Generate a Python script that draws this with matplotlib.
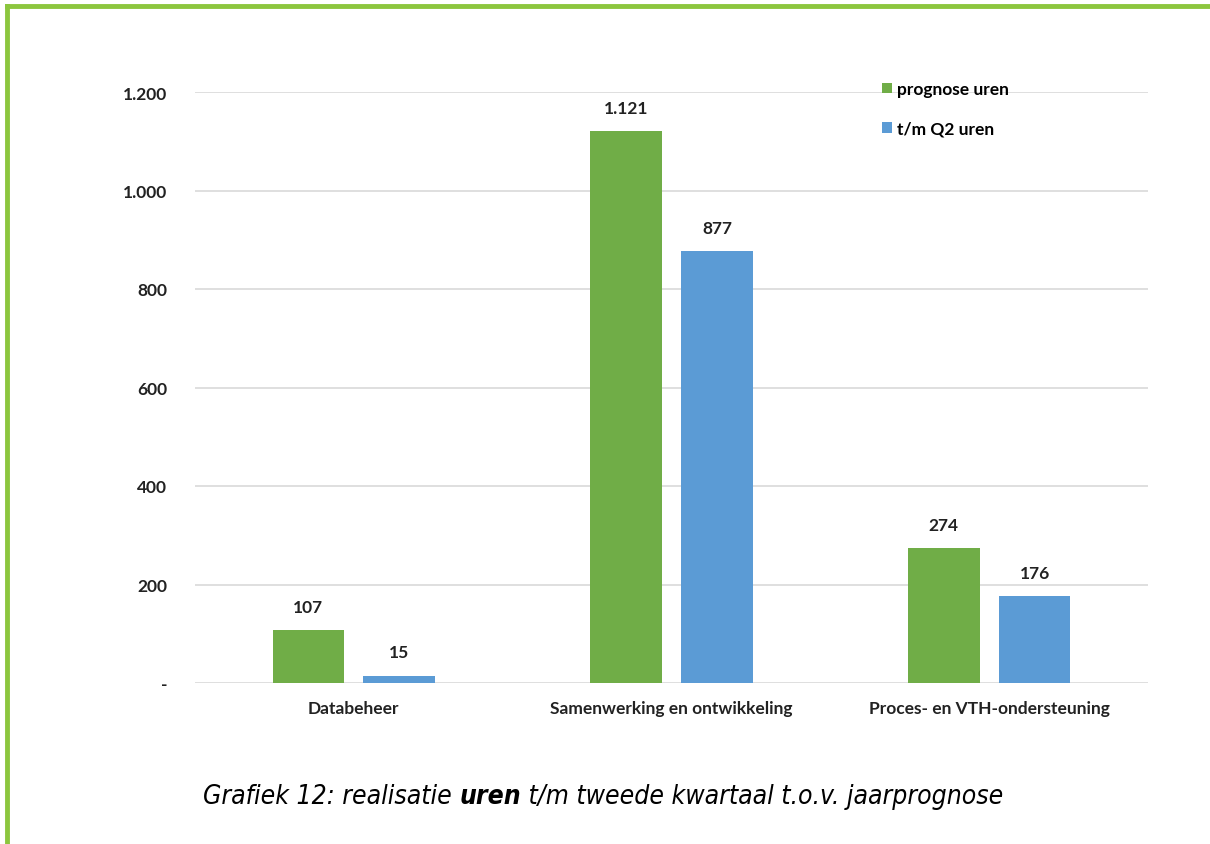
import matplotlib.pyplot as plt
import numpy as np
from matplotlib.lines import Line2D
from matplotlib.ticker import FuncFormatter

categories = ["Databeheer", "Samenwerking en ontwikkeling", "Proces- en VTH-ondersteuning"]
prognose = [107, 1121, 274]
tm_q2 = [15, 877, 176]
series_names = ["prognose uren", "t/m Q2 uren"]
colors = ["#70AD47", "#5B9BD5"]
caption_parts = [("Grafiek 12: realisatie ", "normal"), ("uren", "bold"),
                 (" t/m tweede kwartaal t.o.v. jaarprognose", "normal")]


def nl_fmt(v, pos=None):
    if v == 0:
        return "-"
    return f"{int(v):,}".replace(",", ".")


plt.rcParams['font.family'] = ['Lato', 'DejaVu Sans']

fig = plt.figure(figsize=(12.1, 8.45), dpi=100)
ax = fig.add_axes([195 / 1210, 1 - 684 / 845, (1148 - 195) / 1210, 591 / 845])

x = np.arange(len(categories))
width = 0.226
offset = 0.143
for vals, name, col, off in zip([prognose, tm_q2], series_names, colors, [-offset, offset]):
    bars = ax.bar(x + off, vals, width, color=col, label=name, zorder=3)
    for b, v in zip(bars, vals):
        ax.annotate(nl_fmt(v), (b.get_x() + b.get_width() / 2, v), xytext=(0, 11),
                    textcoords="offset points", ha="center", va="bottom",
                    fontsize=12.5, fontweight="bold", color="#222222")

ax.set_xlim(-0.5, 2.5)
ax.set_ylim(0, 1200)
ax.set_yticks(np.arange(0, 1201, 200))
ax.yaxis.set_major_formatter(FuncFormatter(nl_fmt))
ax.set_xticks(x)
ax.set_xticklabels(categories)
ax.grid(axis="y", color="#d9d9d9", linewidth=1.2, zorder=0)
for s in ax.spines.values():
    s.set_visible(False)
ax.tick_params(length=0, labelsize=12.5, colors="#222222")
ax.tick_params(axis="y", pad=20)
ax.tick_params(axis="x", pad=12)
for lab in ax.get_xticklabels() + ax.get_yticklabels():
    lab.set_fontweight("bold")

ax.legend(loc="upper left", bbox_to_anchor=(0.705, 1.045), frameon=False,
          handlelength=0.55, handleheight=0.55, handletextpad=0.3, labelspacing=1.35,
          prop={'weight': 'bold', 'size': 12.5})

# green frame of the document
fig.add_artist(Line2D([7 / 1210, 1], [1 - 7 / 845, 1 - 7 / 845], color="#8CC63E", linewidth=3.5,
                      transform=fig.transFigure))
fig.add_artist(Line2D([7 / 1210, 7 / 1210], [0, 1 - 7 / 845], color="#8CC63E", linewidth=3.5,
                      transform=fig.transFigure))

# caption, with the bold word in the middle
renderer = fig.canvas.get_renderer()
pieces = []
for txt, w in caption_parts:
    t = fig.text(0, 1 - 797 / 845, txt, ha="left", va="center", fontsize=19, style="italic",
                 weight=w, family="DejaVu Sans", fontstretch="condensed")
    pieces.append(t)
widths = [p.get_window_extent(renderer).width for p in pieces]
xpos = 603 - sum(widths) / 2
for p, w in zip(pieces, widths):
    p.set_x(xpos / 1210)
    xpos += w

fig.savefig("out.png", dpi=100)
